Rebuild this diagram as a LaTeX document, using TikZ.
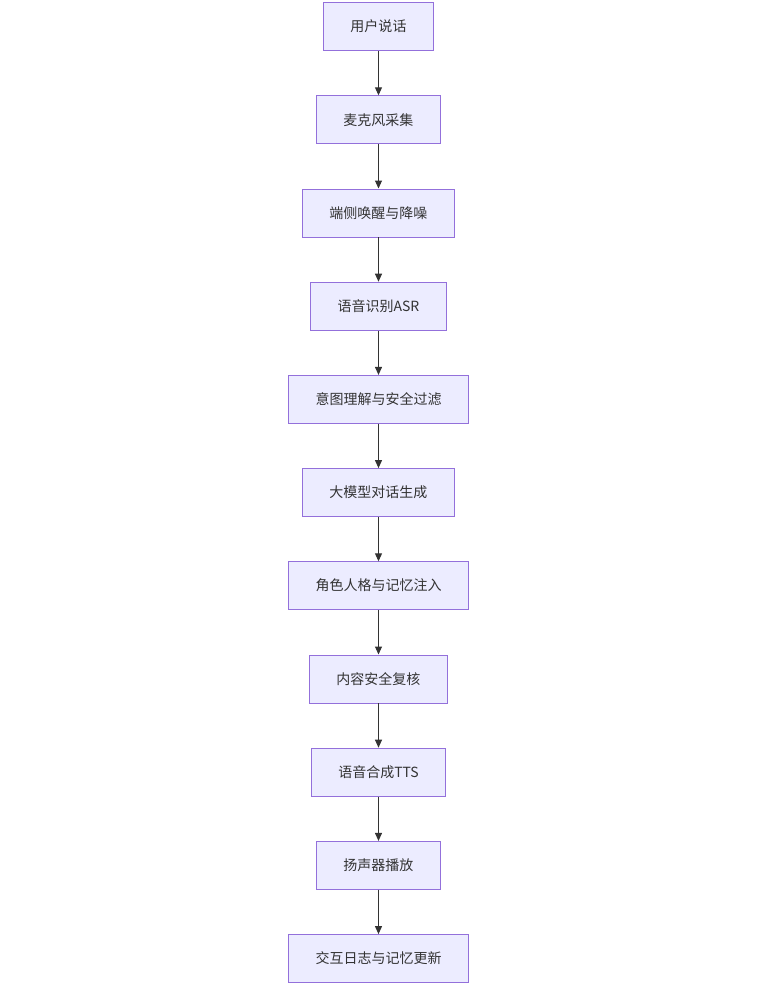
\documentclass[tikz,border=0pt]{standalone}
\usepackage{fontspec}
\setmainfont{Noto Sans CJK SC}
\usepackage{tikz}
\usepackage{xcolor}
\usetikzlibrary{
    arrows,
    arrows.meta,
    calc
}
\definecolor{boxfill}{HTML}{ECECFF}
\definecolor{boxline}{HTML}{9370DB}
\definecolor{linkcol}{HTML}{333333}

\begin{document}
\begin{tikzpicture}[x=1pt, y=93.2pt,
    stage/.style={draw=boxline, fill=boxfill, line width=0.8pt, text=linkcol,
        minimum height=48pt, inner xsep=27pt, font=\fontsize{14pt}{16pt}\selectfont},
    flow/.style={-{Triangle[length=8pt, width=7pt]}, draw=linkcol, line width=1pt}]
                    \useasboundingbox (-378.5pt, 26.5pt) rectangle (381.5pt, -963.5pt);
                    \node[stage] (speak) at (0, 0) {用户说话};
                    \node[stage] (mic) at (0, -1) {麦克风采集};
                    \node[stage] (wake) at (0, -2) {端侧唤醒与降噪};
                    \node[stage] (asr) at (0, -3) {语音识别ASR};
                    \node[stage] (intent) at (0, -4) {意图理解与安全过滤};
                    \node[stage] (llm) at (0, -5) {大模型对话生成};
                    \node[stage] (persona) at (0, -6) {角色人格与记忆注入};
                    \node[stage] (review) at (0, -7) {内容安全复核};
                    \node[stage] (tts) at (0, -8) {语音合成TTS};
                    \node[stage] (spk) at (0, -9) {扬声器播放};
                    \node[stage] (log) at (0, -10) {交互日志与记忆更新};

                    \draw
                    (speak) edge[flow] (mic)
                    (mic) edge[flow] (wake)
                    (wake) edge[flow] (asr)
                    (asr) edge[flow] (intent)
                    (intent) edge[flow] (llm)
                    (llm) edge[flow] (persona)
                    (persona) edge[flow] (review)
                    (review) edge[flow] (tts)
                    (tts) edge[flow] (spk)
                    (spk) edge[flow] (log);
                \end{tikzpicture}
\end{document}
